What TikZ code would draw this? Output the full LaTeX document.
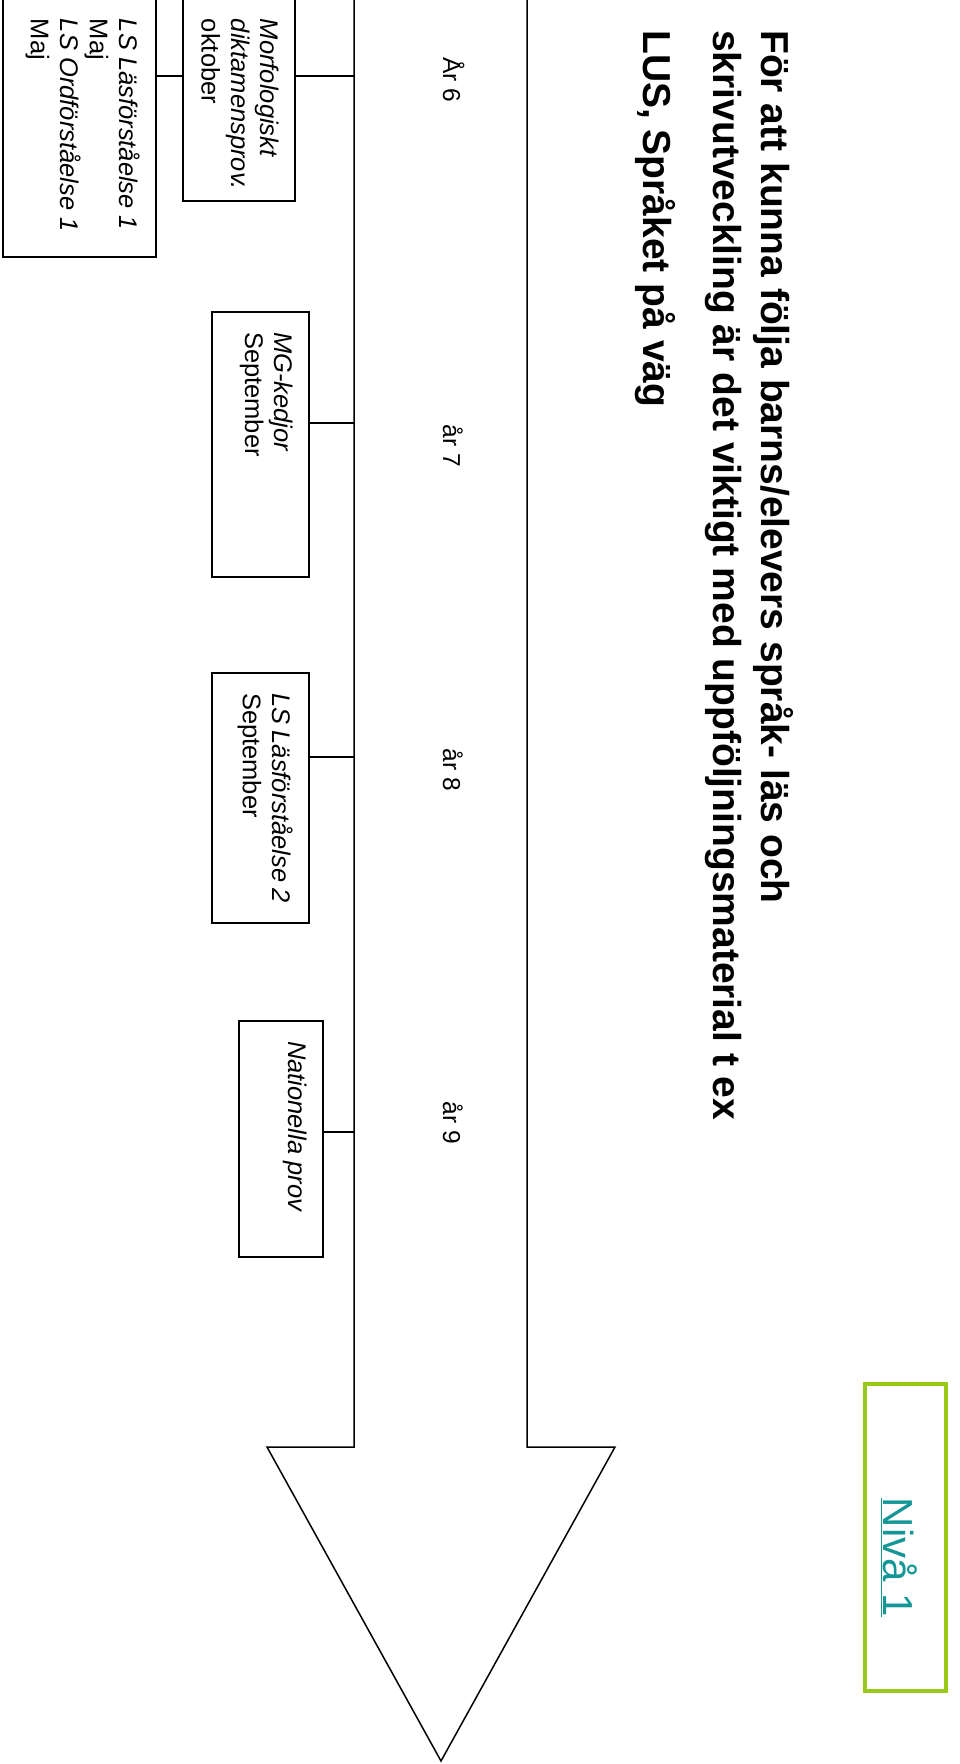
\documentclass[tikz,border=0pt]{standalone}
\usepackage{fontspec}
\setmainfont{Liberation Sans}
\definecolor{nivagreen}{RGB}{152,201,24}
\definecolor{nivateal}{RGB}{20,150,150}
\newcommand{\provtext}[3]{\parbox[c][#2pt][t]{#1pt}{\raggedright #3}}

\begin{document}
\begin{tikzpicture}[
  x=1pt, y=-1pt,
  provbox/.style={draw, line width=1.6pt, rotate=-90, inner xsep=20pt, inner ysep=16pt,
    font=\fontsize{25.5}{29.5}\selectfont},
  arlabel/.style={rotate=-90, anchor=base, inner sep=0pt, font=\fontsize{24.5}{29.5}\selectfont},
  conn/.style={line width=1.6pt}
  ]
\useasboundingbox (0,0) rectangle (960,1764);

\node[rotate=-90, anchor=north west, inner sep=0pt, align=left,
  font=\bfseries\fontsize{39}{48}\selectfont] (title) at (794,30)
  {För att kunna följa barns/elevers språk- läs och\\
   skrivutveckling är det viktigt med uppföljningsmaterial t ex\\[22pt]
   LUS, Språket på väg};

\draw[line width=1.5pt] (354,-10) -- (354,1447) -- (267,1447) -- (441,1761)
  -- (615,1447) -- (527,1447) -- (527,-10);

\coordinate (t6) at (354,76);
\coordinate (t7) at (354,423);
\coordinate (t8) at (354,757);
\coordinate (t9) at (354,1132);

\node[arlabel] (a6) at (443,80) {År 6};
\node[arlabel] (a7) at (443,446) {år 7};
\node[arlabel] (a8) at (443,770) {år 8};
\node[arlabel] (a9) at (443,1123) {år 9};

\node[provbox] (ls) at (79.5,128) {\provtext{218}{121}{\textit{LS Läsförståelse 1}\\Maj\\\textit{LS Ordförståelse 1}\\Maj}};
\node[provbox] (morf) at (239,100) {\provtext{162}{80}{\textit{Morfologiskt}\\\textit{diktamensprov.}\\oktober}};
\node[provbox] (mg) at (260.5,444.5) {\provtext{225}{65}{\textit{MG-kedjor}\\September}};
\node[provbox] (ls2) at (260.5,798) {\provtext{210}{65}{\textit{LS Läsförståelse 2}\\September}};
\node[provbox] (nat) at (281,1139) {\provtext{196}{52}{\textit{Nationella prov}}};

\draw[conn] (t6 -| ls.north) -- (t6 -| morf.south);
\draw[conn] (t6 -| morf.north) -- (t6);
\draw[conn] (t7 -| mg.north) -- (t7);
\draw[conn] (t8 -| ls2.north) -- (t8);
\draw[conn] (t9 -| nat.north) -- (t9);

\node[draw=nivagreen, line width=4pt, rotate=-90, minimum width=307pt, minimum height=81pt,
  inner sep=0pt, text=nivateal, font=\fontsize{42}{50}\selectfont] (niva) at (905.5,1537.5)
  {\hspace*{40pt}\raisebox{-22.5pt}[0pt][0pt]{\underline{Nivå 1}}};

\end{tikzpicture}
\end{document}
